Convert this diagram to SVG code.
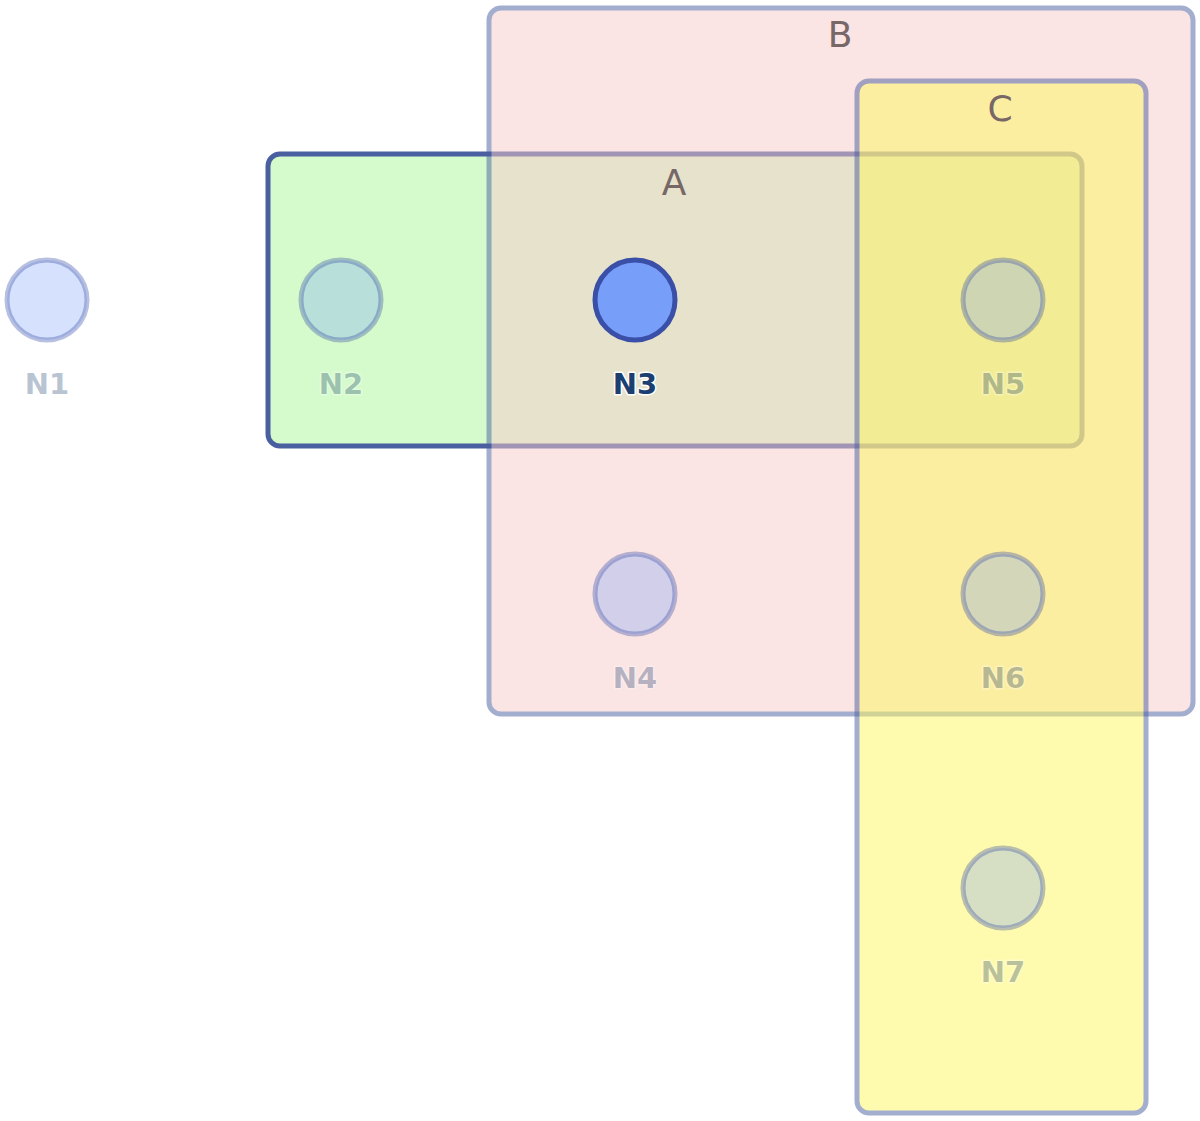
<svg xmlns="http://www.w3.org/2000/svg" width="1200" height="1121" viewBox="0 0 1200 1121">
<style>
.grp{stroke:#4a5f9f;stroke-width:5}
.glabel{font-family:"DejaVu Sans",sans-serif;font-size:36px;fill:#776767;text-anchor:middle}
.node circle{fill:#779ef8;stroke:#3a4fa8;stroke-width:5}
.node text{font-family:"DejaVu Sans",sans-serif;font-size:29px;font-weight:bold;fill:#1b3f70;text-anchor:middle;stroke:#fff;stroke-width:3;paint-order:stroke;stroke-linejoin:round}
.faded circle{fill-opacity:0.3;stroke-opacity:0.36}
.faded text{opacity:0.3}
</style>
<rect width="1200" height="1121" fill="#fff"/>
<g id="A">
<rect class="grp" x="268" y="154" width="814" height="292" rx="12" fill="#d5fbcc"/>
</g>
<g id="B" opacity="0.5">
<rect class="grp" x="489" y="8" width="704" height="706" rx="12" fill="#f7cbcb"/>
</g>
<g id="C" opacity="0.5">
<rect class="grp" x="857" y="81" width="289" height="1032" rx="12" fill="#fff95f"/>
</g>
<g id="group-labels">
<text class="glabel" x="674" y="195">A</text>
<text class="glabel" x="840" y="47">B</text>
<text class="glabel" x="1000" y="121">C</text>
</g>
<g id="edges"/>
<g id="N1" class="node faded"><circle cx="47" cy="300" r="40"/><text x="47" y="394">N1</text></g>
<g id="N2" class="node faded"><circle cx="341" cy="300" r="40"/><text x="341" y="394">N2</text></g>
<g id="N3" class="node"><circle cx="635" cy="300" r="40"/><text x="635" y="394">N3</text></g>
<g id="N4" class="node faded"><circle cx="635" cy="594" r="40"/><text x="635" y="688">N4</text></g>
<g id="N5" class="node faded"><circle cx="1003" cy="300" r="40"/><text x="1003" y="394">N5</text></g>
<g id="N6" class="node faded"><circle cx="1003" cy="594" r="40"/><text x="1003" y="688">N6</text></g>
<g id="N7" class="node faded"><circle cx="1003" cy="888" r="40"/><text x="1003" y="982">N7</text></g>
</svg>
